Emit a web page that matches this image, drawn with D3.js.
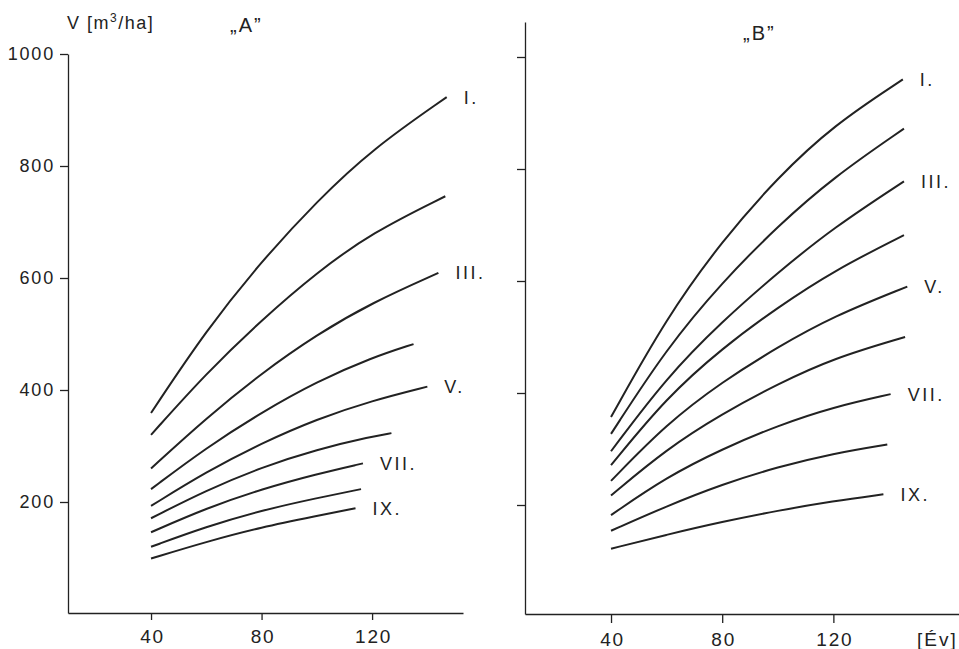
<!DOCTYPE html>
<html>
<head>
<meta charset="utf-8">
<title>Fatermés görbék A és B</title>
<script src="https://d3js.org/d3.v7.min.js"></script>
<style>
  body { margin: 0; background: #fff; }
  text { font-family: "Liberation Sans", Arial, sans-serif; fill: #222; }
  .axis path, .axis line { stroke: #222; stroke-width: 1.3; }
  .axis text { font-size: 18px; fill: #222; letter-spacing: 1.8px; }
  .curve { fill: none; stroke: #222; stroke-width: 2; }
  .lab { font-size: 18px; letter-spacing: 2.5px; }
</style>
</head>
<body>
<script>
// ages read at (plus each curve's own last age)
var ages = [40, 60, 80, 100, 120];
var xTicks = [40, 80, 120];
var yTicks = [200, 400, 600, 800, 1000];
var classLabels = ["I.", "", "III.", "", "V.", "", "VII.", "", "IX."];

// "A" panel: end age of each curve and volumes (m3/ha) at ages[...] then the end age
var endA = [147, 146.5, 144, 135, 140, 127, 116.7, 116, 114];
var volA = [
  [359, 507, 630, 737, 830, 923],
  [320, 430, 525, 610, 681, 746],
  [260, 350, 430, 499, 556, 609],
  [223, 297, 360, 415, 458, 482],
  [193, 254, 305, 348, 381, 406],
  [171, 221, 262, 294, 317, 323],
  [146, 189, 223, 250, 269],
  [120, 156, 185, 207, 223],
  [99, 129, 155, 175, 189]
];

// "B" panel
var endB = [145, 145.4, 145.4, 145.4, 146.6, 145.8, 140.6, 139.4, 138];
var volB = [
  [357, 535, 672, 785, 878, 960],
  [327, 480, 598, 698, 785, 872],
  [296, 428, 528, 615, 695, 778],
  [271, 392, 480, 553, 618, 682],
  [243, 345, 420, 482, 537, 590],
  [217, 300, 363, 416, 462, 500],
  [182, 250, 300, 342, 375, 398],
  [154, 198, 237, 268, 292, 308],
  [122, 147, 170, 190, 207, 219]
];

var width = 959, height = 649;

var svg = d3.select("body").append("svg")
  .attr("width", width)
  .attr("height", height);

function toPoints(vals, endAge) {
  return vals.map(function(v, i) {
    return { age: i < vals.length - 1 ? ages[i] : endAge, v: v };
  });
}

function drawPanel(opt) {
  var x = d3.scaleLinear().domain([opt.x0, opt.x1]).range([opt.left, opt.right]);
  var y = d3.scaleLinear().domain([0, 1000]).range([opt.yZero, opt.yTop]);
  var yAxisScale = d3.scaleLinear()
    .domain([y.invert(opt.axisBottom), y.invert(opt.axisTop)])
    .range([opt.axisBottom, opt.axisTop]);

  var g = svg.append("g");

  g.append("g")
    .attr("class", "axis")
    .attr("transform", "translate(0," + opt.axisBottom + ")")
    .call(d3.axisBottom(x).tickValues(xTicks).tickSize(opt.xTickLen).tickSizeOuter(0).tickPadding(10))
    .call(function(s) { s.selectAll("text").style("font-size", "19px").attr("dx", "1px"); });

  var ya = d3.axisLeft(yAxisScale).tickValues(yTicks).tickSize(8).tickSizeOuter(0).tickPadding(5)
    .tickFormat(opt.yLabels ? d3.format("d") : "");
  g.append("g")
    .attr("class", "axis")
    .attr("transform", "translate(" + opt.left + ",0)")
    .call(ya);

  var line = d3.line()
    .x(function(d) { return x(d.age); })
    .y(function(d) { return y(d.v); })
    .curve(d3.curveBasis);

  opt.vols.forEach(function(vals, i) {
    var pts = toPoints(vals, opt.ends[i]);
    g.append("path")
      .attr("class", "curve")
      .attr("d", line(pts));
    if (classLabels[i]) {
      var last = pts[pts.length - 1];
      g.append("text")
        .attr("class", "lab")
        .attr("x", x(last.age) + 17)
        .attr("y", y(last.v))
        .attr("dy", "0.36em")
        .text(classLabels[i]);
    }
  });

  g.append("text")
    .attr("x", opt.titleX)
    .attr("y", opt.titleY)
    .style("font-size", "20px")
    .style("letter-spacing", "2px")
    .text(opt.title);
}

drawPanel({
  x0: 9.95, x1: 152.9, left: 68, right: 463,
  yZero: 614, yTop: 54, axisBottom: 613, axisTop: 54,
  xTickLen: 7, yLabels: true,
  vols: volA, ends: endA,
  title: "\u201EA\u201D", titleX: 230, titleY: 32
});

drawPanel({
  x0: 9.05, x1: 165.2, left: 525, right: 959,
  yZero: 617, yTop: 57, axisBottom: 614, axisTop: 22,
  xTickLen: 9, yLabels: false,
  vols: volB, ends: endB,
  title: "\u201EB\u201D", titleX: 743, titleY: 40
});

svg.append("text")
  .attr("x", 67)
  .attr("y", 29)
  .style("font-size", "18px")
  .style("letter-spacing", "1.5px")
  .html("V [m<tspan dy='-7' font-size='12px'>3</tspan><tspan dy='7'>/ha]</tspan>");

svg.append("text")
  .attr("x", 917)
  .attr("y", 646)
  .style("font-size", "19px")
  .style("letter-spacing", "2px")
  .text("[Év]");
</script>
</body>
</html>
